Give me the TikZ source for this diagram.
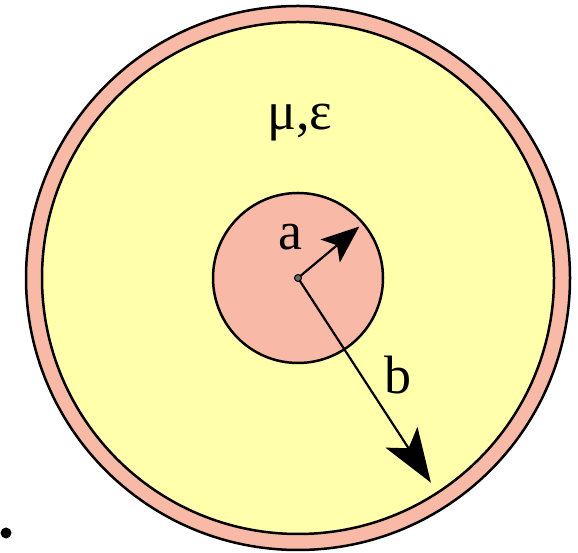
\documentclass[tikz,border=0pt]{standalone}
\usepackage{fontspec}
\setmainfont{Liberation Serif}
\usetikzlibrary{arrows.meta,calc}
\definecolor{shellpink}{RGB}{248,186,166}
\definecolor{fillyellow}{RGB}{255,255,172}

\begin{document}
\begin{tikzpicture}[x=1pt,y=1pt,
    conductor/.style={fill=shellpink,draw=black,line width=2.5pt},
    dielectric/.style={fill=fillyellow,draw=black,line width=2.5pt},
    label/.style={font=\fontsize{54}{54}\selectfont},
    small arrow/.style={line width=2.2pt,-{Stealth[length=38pt,width=30pt,inset=9pt]}},
    big arrow/.style={line width=2.2pt,-{Stealth[length=54pt,width=38pt,inset=13pt]}}]
  \useasboundingbox (0,0) rectangle (578,553);
  % Outer conductor and dielectric
  \coordinate (o) at (298,275);
  \draw[conductor] (o) circle (272);
  \draw[dielectric] (o) circle (256);
  % Inner conductor
  \draw[conductor] (o) circle (85);
  % Radii
  \coordinate (a tip) at ($(o)+(40:80)$);
  \coordinate (b tip) at ($(o)+(-57:244)$);
  \draw[small arrow] (o) -- (a tip);
  \draw[big arrow] (o) -- (b tip);
  \filldraw[fill=black!60,draw=black,line width=1pt] (o) circle (3.5);
  % Labels
  \node[label] (a lbl) at (290,316) {a};
  \node[label] (b lbl) at (398,178) {b};
  \node[label] (mu eps) at (300,430) {μ,ε};
  % stray mark
  \fill (6,20) circle (5.5);
\end{tikzpicture}
\end{document}
